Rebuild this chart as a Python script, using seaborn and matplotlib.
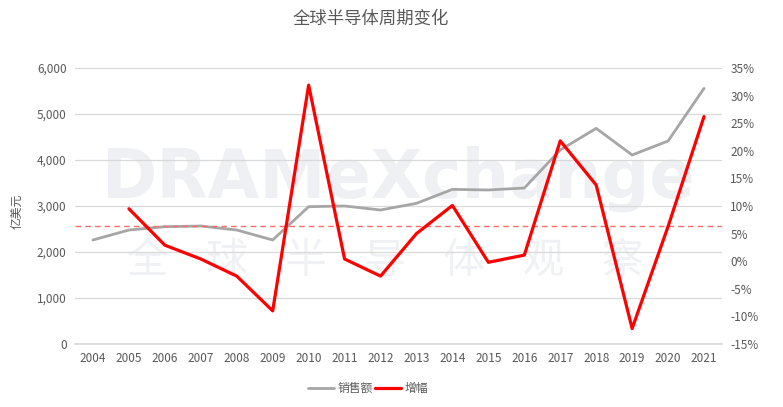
import numpy as np
import pandas as pd
import matplotlib
matplotlib.use('Agg')
import matplotlib.pyplot as plt
import seaborn as sns
from matplotlib.ticker import FuncFormatter

sns.set_theme(style='white')
plt.rcParams['font.family'] = ['Noto Sans CJK SC', 'DejaVu Sans']

# --- data ---
years = list(range(2004, 2022))
sales = [2261, 2478, 2550, 2565, 2478, 2261, 2985, 3000, 2913, 3058,
         3362, 3348, 3391, 4217, 4688, 4109, 4413, 5558]          # 亿美元
growth = [np.nan, 9.5, 2.9, 0.4, -2.7, -9.0, 31.9, 0.4, -2.7, 5.0,
          10.1, -0.2, 1.1, 21.8, 13.8, -12.2, 6.3, 26.2]          # %
avg_growth = 6.3

df = pd.DataFrame({'year': [str(y) for y in years], 'sales': sales, 'growth': growth})

TXT = '#595959'
fig = plt.figure(figsize=(7.83, 4.07), dpi=100)
ax = fig.add_axes([75 / 783, 1 - 344 / 407, (722 - 75) / 783, (344 - 68) / 407])
ax2 = ax.twinx()

# faint watermark, behind the lines
ax.text(0.50, 0.60, 'DRAMeXchange', fontsize=48, fontweight='bold', color='#eef0f4',
        ha='center', va='center', family='DejaVu Sans', transform=ax.transAxes, zorder=0)
ax.text(0.48, 0.30, '全    球    半    导    体    观    察', fontsize=30, color='#f0f1f4',
        ha='center', va='center', transform=ax.transAxes, zorder=0)

sns.lineplot(data=df, x='year', y='sales', ax=ax, color='#a6a6a6', linewidth=2.0,
             sort=False, legend=False, zorder=3)
sns.lineplot(data=df, x='year', y='growth', ax=ax2, color='#ff0000', linewidth=2.3,
             sort=False, legend=False, zorder=3)
ax2.axhline(avg_growth, color='#ff6b6b', linestyle='--', linewidth=1.0, dashes=(4, 3))

ax.set_ylim(0, 6000)
ax.set_yticks(range(0, 6001, 1000))
ax.yaxis.set_major_formatter(FuncFormatter(lambda v, p: f'{int(v):,}'))
ax2.set_ylim(-15, 35)
ax2.set_yticks(range(-15, 36, 5))
ax2.yaxis.set_major_formatter(FuncFormatter(lambda v, p: f'{int(v)}%'))
ax.set_xlim(-0.5, len(years) - 0.5)

ax.grid(axis='y', color='#d9d9d9', linewidth=0.9, zorder=1)
ax.set_axisbelow(True)
for a in (ax, ax2):
    for s in a.spines.values():
        s.set_visible(False)
    a.tick_params(axis='both', length=0, labelsize=8.5, colors=TXT, pad=6)
    a.set_xlabel('')
    a.set_ylabel('')
ax.spines['bottom'].set_visible(True)
ax.spines['bottom'].set_color('#d9d9d9')

ax.set_ylabel('亿美元', fontsize=8.5, color=TXT, labelpad=2)
ax.yaxis.set_label_coords(-0.08, 0.48)

fig.text(0.474, 0.955, '全球半导体周期变化', fontsize=12.5, color=TXT, ha='center', va='center')

handles = [plt.Line2D([], [], color='#a6a6a6', linewidth=2.0),
           plt.Line2D([], [], color='#ff0000', linewidth=2.3)]
fig.legend(handles, ['销售额', '增幅'], loc='center', bbox_to_anchor=(0.47, 0.045),
           ncol=2, frameon=False, fontsize=8.5, labelcolor=TXT, handlelength=2.2,
           handletextpad=0.3, columnspacing=0.2)

fig.savefig('out.png', dpi=100)
